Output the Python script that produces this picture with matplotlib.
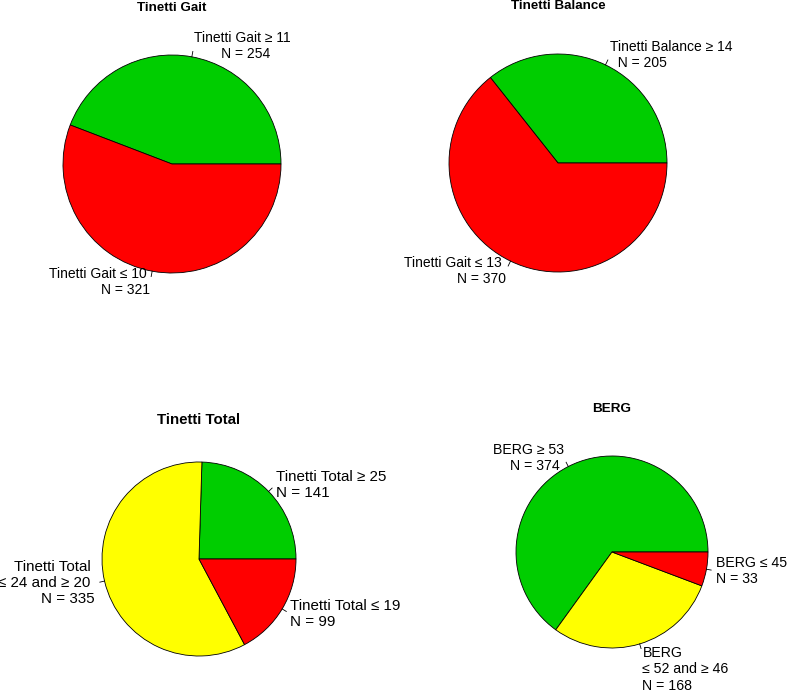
"""Tinetti / BERG category pies, base-R style."""
import numpy as np
import matplotlib
matplotlib.use("Agg")
import matplotlib.pyplot as plt

plt.rcParams["font.family"] = ["Liberation Sans", "DejaVu Sans"]

GREEN, RED, YELLOW = "#00CD00", "#FF0000", "#FFFF00"

gait_n = [254, 321]
gait_labels = ["Tinetti Gait \u2265 11\n       N = 254", "Tinetti Gait \u2264 10 \nN = 321"]
gait_colors = [GREEN, RED]

balance_n = [205, 370]
balance_labels = ["Tinetti Balance \u2265 14\n  N = 205", "Tinetti Gait \u2264 13 \nN = 370"]
balance_colors = [GREEN, RED]

total_n = [141, 335, 99]
total_labels = ["Tinetti Total \u2265 25\nN = 141",
                "Tinetti Total \n\u2264 24 and \u2265 20 \nN = 335",
                "Tinetti Total \u2264 19\nN = 99"]
total_colors = [GREEN, YELLOW, RED]

berg_n = [374, 168, 33]
berg_labels = ["BERG \u2265 53\nN = 374 ", "\n\nBERG\n\u2264 52 and \u2265 46\nN = 168", "BERG \u2264 45\nN = 33"]
berg_colors = [GREEN, YELLOW, RED]

W, H = 787, 694
fig = plt.figure(figsize=(W / 100, H / 100), dpi=100)
ax = fig.add_axes([0, 0, 1, 1])

# (values, labels, colors, title, centre px, radius px, title px, label pt, title pt)
PANELS = [
    (gait_n, gait_labels, gait_colors, "Tinetti Gait", (172, 164), 109, (172, 8), 10.0, 9.6),
    (balance_n, balance_labels, balance_colors, "Tinetti Balance", (558, 163), 109, (558, 6), 10.0, 9.6),
    (total_n, total_labels, total_colors, "Tinetti Total", (199, 559), 97, (199, 420), 10.9, 10.8),
    (berg_n, berg_labels, berg_colors, "BERG", (612, 552), 96, (612, 409), 10.2, 9.7),
]

for vals, labs, cols, title, (cx, cy), r, (tx, ty), lfs, tfs in PANELS:
    c = (cx, H - cy)
    wedges, texts = ax.pie(vals, labels=labs, colors=cols, center=c, radius=r,
                           startangle=0, counterclock=True, labeldistance=1.1,
                           wedgeprops=dict(edgecolor="black", linewidth=0.6),
                           textprops=dict(fontsize=lfs))
    for w, t in zip(wedges, texts):
        mid = np.deg2rad((w.theta1 + w.theta2) / 2)
        # like R: left-justify on the right half, right-justify on the left half
        t.set_horizontalalignment("left" if np.cos(mid) > 0 else "right")
        t.set_verticalalignment("center")
        ax.plot([c[0] + r * np.cos(mid), c[0] + 1.05 * r * np.cos(mid)],
                [c[1] + r * np.sin(mid), c[1] + 1.05 * r * np.sin(mid)],
                color="black", lw=0.6)
    ax.text(tx, H - ty, title, ha="center", va="center", fontsize=tfs, fontweight="bold")

ax.set_xlim(0, W)
ax.set_ylim(0, H)
ax.set_aspect("equal")
ax.axis("off")
fig.savefig("out.png", dpi=100, facecolor="white")
